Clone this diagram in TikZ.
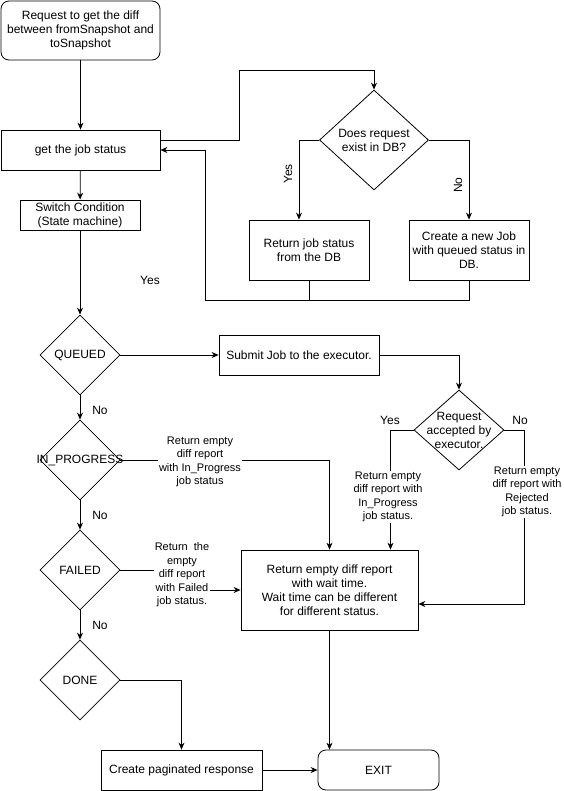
\documentclass[tikz,border=0pt]{standalone}
\usepackage{fontspec}
\setmainfont{Liberation Sans}
\usepackage{tikz}
\usetikzlibrary{shapes.geometric,arrows.meta,calc}

\tikzset{
	box/.style={draw, rectangle, align=center, inner sep=1pt},
	roundbox/.style={box, rounded corners=8pt},
	decision/.style={draw, diamond, inner sep=0pt, minimum width=80pt, minimum height=80pt},
	arr/.style={-{Stealth[length=7pt,width=6pt]}},
	edgetext/.style={fill=white, align=center, inner sep=1pt, font=\fontsize{11}{13.5}\selectfont}
}

\begin{document}
\begin{tikzpicture}[x=1pt, y=-1pt, line width=0.8pt, font=\fontsize{12}{14}\selectfont]
					\useasboundingbox (0,0) rectangle (563,791);
					\node[roundbox, minimum width=159pt, minimum height=59pt] (request) at (80.5,30.5) {Request to get the diff\\between fromSnapshot and\\toSnapshot};
					\node[box, minimum width=159pt, minimum height=40pt] (status) at (80.5,150) {get the job status};
					\node[box, minimum width=120pt, minimum height=30pt] (switch) at (80,215) {Switch Condition\\(State machine)};
					\node[decision, minimum width=109pt, minimum height=100pt, label={[align=center]center:Does request\\exist in DB?}] (exists) at (374,140) {};
					\node[box, minimum width=120pt, minimum height=60pt] (fromdb) at (309,250) {Return job status\\from the DB};
					\node[box, minimum width=120pt, minimum height=60pt] (newjob) at (469,250) {Create a new Job\\with queued status in\\DB.};
					\node[decision, label=center:QUEUED] (queued) at (80,355) {};
					\node[box, minimum width=160pt, minimum height=40pt] (submit) at (299,355) {Submit Job to the executor.};
					\node[decision, minimum width=90pt, label={[align=center]center:Request\\accepted by\\executor.}] (accepted) at (459,430) {};
					\node[decision, label=center:IN\_PROGRESS] (inprogress) at (80,460) {};
					\node[decision, label=center:FAILED] (failed) at (80,570) {};
					\node[decision, label=center:DONE] (done) at (80,680) {};
					\node[box, minimum width=177pt, minimum height=80pt] (waittime) at (329.5,590) {Return empty diff report\\with wait time.\\Wait time can be different\\for different status.};
					\node[box, minimum width=161pt, minimum height=40pt] (paginate) at (181.5,770) {Create paginated response};
					\node[roundbox, minimum width=121pt, minimum height=40pt] (exit) at (378.5,770) {EXIT};
					\coordinate (upturn) at (239,70);
					\coordinate (backturn) at (205,300);
					\coordinate (rejturn) at (524,604);
					\coordinate (failturn) at (182,570);
					\draw[arr] (request) -- (status);
					\draw[arr] (status) -- (switch);
					\draw[arr] (switch) -- (queued);
					\draw[arr] ([yshift=10pt]status.east) -| (upturn) -| (exists.north);
					\draw[arr] (exists.west) -| ([xshift=-10pt]fromdb.north);
					\draw[arr] (exists.east) -| (newjob.north);
					\node[rotate=90] (yesdb) at (288,174) {Yes};
					\node[rotate=90] (nodb) at (458,185) {No};
					\draw (fromdb.south) -- (fromdb.south |- backturn);
					\draw[arr] (newjob.south) |- (backturn) |- (status.east);
					\draw[arr] (queued) -- (submit);
					\node (yesqueued) at (150,280) {Yes};
					\draw[arr] (queued) -- (inprogress);
					\node (noqueued) at (100,410) {No};
					\draw[arr] (submit.east) -| (accepted.north);
					\draw[arr] (accepted.west) -| ([xshift=61pt]waittime.north);
					\node (yesaccepted) at (390,420) {Yes};
					\node[edgetext] (acceptedtext) at (388,497) {Return empty\\diff report with\\In\_Progress\\job status.};
					\draw[arr] (accepted.east) -| (rejturn) -- (rejturn -| waittime.east);
					\node (noaccepted) at (520,420) {No};
					\node[edgetext] (rejectedtext) at (527,492) {Return empty\\diff report with\\Rejected\\job status.};
					\draw[arr] (inprogress.east) -| (waittime.north);
					\node[edgetext] (inprogresstext) at (200,462) {Return empty\\diff report\\with In\_Progress\\job status};
					\draw[arr] (inprogress) -- (failed);
					\node (noinprogress) at (100,515) {No};
					\draw[arr] (failed.east) -- (failturn) |- (waittime.west);
					\node[edgetext] (failedtext) at (182,575) {Return\ \ the\\empty\\diff report\\with Failed\\job status.};
					\draw[arr] (failed) -- (done);
					\node (nofailed) at (100,625) {No};
					\draw[arr] (done.east) -| (paginate.north);
					\draw[arr] (paginate) -- (exit);
					\draw[arr] (waittime.south) -- (waittime.south |- exit.north);
				\end{tikzpicture}
\end{document}
